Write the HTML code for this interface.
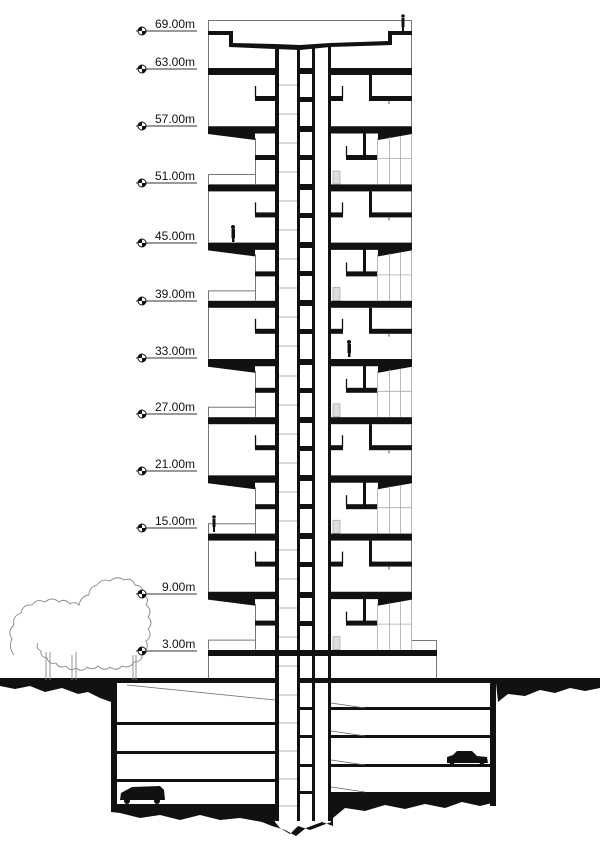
<!DOCTYPE html>
<html><head><meta charset="utf-8"><style>
html,body{margin:0;padding:0;background:#fff}
svg{display:block}
text{font-family:"Liberation Sans",sans-serif;font-size:12px;fill:#111}
</style></head><body>
<svg width="600" height="854" viewBox="0 0 600 854" xmlns="http://www.w3.org/2000/svg">
<defs>
<g id="mod">
  <!-- straight slab -->
  <rect x="208" y="0" width="67" height="7" fill="#111"/>
  <rect x="331" y="0" width="81" height="7" fill="#111"/>
  <!-- upper floor -->
  <line x1="208.5" y1="7" x2="208.5" y2="58" stroke="#777" stroke-width="1"/>
  <line x1="411.5" y1="7" x2="411.5" y2="58" stroke="#777" stroke-width="1"/>
  <line x1="255.5" y1="18" x2="255.5" y2="30" stroke="#111" stroke-width="1.3"/>
  <rect x="255" y="28" width="20" height="5" fill="#111"/>
  <line x1="342.5" y1="18" x2="342.5" y2="30" stroke="#111" stroke-width="1.3"/>
  <rect x="331" y="28" width="12" height="5" fill="#111"/>
  <rect x="369" y="7" width="3" height="22" fill="#111"/>
  <rect x="369" y="28" width="43" height="5" fill="#111"/>
  <line x1="389" y1="33" x2="389" y2="36" stroke="#555"/>
  <!-- tapered slab -->
  <polygon points="208,58.2 275,58.2 275,65.5 255,65.5 255,72 208,66" fill="#111"/>
  <polygon points="331,58.2 412,58.2 412,66 378,72 378,65.5 331,65.5" fill="#111"/>
  <!-- lower floor -->
  <line x1="255.5" y1="70" x2="255.5" y2="116" stroke="#777" stroke-width="1"/>
  <line x1="208" y1="106.5" x2="255" y2="106.5" stroke="#777" stroke-width="1"/>
  <line x1="208.5" y1="106" x2="208.5" y2="116" stroke="#777" stroke-width="1"/>
  <rect x="255" y="87" width="20" height="5" fill="#111"/>
  <rect x="363" y="65" width="3" height="23" fill="#111"/>
  <rect x="346" y="87" width="31" height="5" fill="#111"/>
  <line x1="346.5" y1="78" x2="346.5" y2="88" stroke="#111" stroke-width="1.3"/>
  <g stroke="#aaa" stroke-width="0.8" fill="none">
    <line x1="377.5" y1="70" x2="377.5" y2="116"/>
    <line x1="389.5" y1="69" x2="389.5" y2="116"/>
    <line x1="400.5" y1="68" x2="400.5" y2="116"/>
    <line x1="411.5" y1="66" x2="411.5" y2="116"/>
    <line x1="377" y1="90.5" x2="412" y2="90.5"/>
  </g>
  <rect x="333" y="103" width="7" height="13" fill="#ddd" stroke="#999" stroke-width="0.6"/>
</g>
</defs>

<!-- roof -->
<line x1="208" y1="20.5" x2="412" y2="20.5" stroke="#777"/>
<line x1="208.5" y1="20" x2="208.5" y2="68" stroke="#777"/>
<line x1="411.5" y1="20" x2="411.5" y2="68" stroke="#777"/>
<polygon points="208,31 233,31 233,43 275,44 300,45 330,43 388,41 388,31 412,31 412,35 392,35 392,45 330,47 300,50 275,49 229,47 229,35 208,35" fill="#111"/>
<g fill="#111"><circle cx="403" cy="16" r="1.8"/><rect x="401.5" y="18" width="3" height="9"/><rect x="402" y="26" width="2" height="5"/></g>

<use href="#mod" y="68"/>
<use href="#mod" y="184.4"/>
<use href="#mod" y="300.8"/>
<use href="#mod" y="417.2"/>
<use href="#mod" y="533.6"/>

<!-- podium -->
<line x1="412" y1="640.5" x2="437" y2="640.5" stroke="#777"/>
<line x1="436.5" y1="640" x2="436.5" y2="680" stroke="#777"/>
<line x1="208.5" y1="650" x2="208.5" y2="680" stroke="#777"/>
<rect x="208" y="650" width="229" height="6" fill="#111"/>

<!-- core -->
<g fill="#111">
<rect x="275" y="45" width="4" height="776"/>
<rect x="297" y="45" width="3" height="776"/>
<rect x="312" y="45" width="3" height="776"/>
<rect x="328" y="45" width="3" height="776"/>
</g>
<g fill="#111">
<rect x="300" y="68" width="12" height="6"/><rect x="300" y="97" width="12" height="5"/>
<rect x="300" y="126" width="12" height="6"/><rect x="300" y="155" width="12" height="5"/>
<rect x="300" y="184" width="12" height="6"/><rect x="300" y="213" width="12" height="5"/>
<rect x="300" y="242" width="12" height="6"/><rect x="300" y="271" width="12" height="5"/>
<rect x="300" y="300" width="12" height="6"/><rect x="300" y="329" width="12" height="5"/>
<rect x="300" y="359" width="12" height="6"/><rect x="300" y="388" width="12" height="5"/>
<rect x="300" y="417" width="12" height="6"/><rect x="300" y="446" width="12" height="5"/>
<rect x="300" y="475" width="12" height="6"/><rect x="300" y="504" width="12" height="5"/>
<rect x="300" y="533" width="12" height="6"/><rect x="300" y="562" width="12" height="5"/>
<rect x="300" y="592" width="12" height="6"/><rect x="300" y="621" width="12" height="5"/>
<rect x="300" y="650" width="12" height="6"/><rect x="300" y="679" width="12" height="4"/>
<rect x="300" y="707" width="12" height="3"/><rect x="300" y="735" width="12" height="3"/>
<rect x="300" y="764" width="12" height="3"/><rect x="300" y="791" width="12" height="3"/>
</g>
<g stroke="#ccc" stroke-width="1.5">
<line x1="279" y1="85" x2="297" y2="85"/><line x1="279" y1="114" x2="297" y2="114"/>
<line x1="279" y1="143" x2="297" y2="143"/><line x1="279" y1="172" x2="297" y2="172"/>
<line x1="279" y1="201" x2="297" y2="201"/><line x1="279" y1="230" x2="297" y2="230"/>
<line x1="279" y1="259" x2="297" y2="259"/><line x1="279" y1="288" x2="297" y2="288"/>
<line x1="279" y1="317" x2="297" y2="317"/><line x1="279" y1="346" x2="297" y2="346"/>
<line x1="279" y1="376" x2="297" y2="376"/><line x1="279" y1="405" x2="297" y2="405"/>
<line x1="279" y1="434" x2="297" y2="434"/><line x1="279" y1="463" x2="297" y2="463"/>
<line x1="279" y1="492" x2="297" y2="492"/><line x1="279" y1="521" x2="297" y2="521"/>
<line x1="279" y1="550" x2="297" y2="550"/><line x1="279" y1="579" x2="297" y2="579"/>
<line x1="279" y1="608" x2="297" y2="608"/><line x1="279" y1="637" x2="297" y2="637"/>
<line x1="279" y1="666" x2="297" y2="666"/><line x1="279" y1="695" x2="297" y2="695"/>
<line x1="279" y1="723" x2="297" y2="723"/><line x1="279" y1="751" x2="297" y2="751"/>
<line x1="279" y1="779" x2="297" y2="779"/><line x1="279" y1="806" x2="297" y2="806"/>
</g>

<!-- ground & basement -->
<rect x="0" y="678" width="279" height="5" fill="#111"/>
<rect x="297" y="678" width="303" height="5" fill="#111"/>
<polygon points="0,683 111,683 111,702 100,698 88,692 78,694 62,688 45,692 30,686 15,689 0,686" fill="#111"/>
<polygon points="496,683 600,683 600,688 585,691 570,688 555,693 540,690 525,696 508,694 498,702" fill="#111"/>
<rect x="111" y="683" width="6" height="127" fill="#111"/>
<rect x="490" y="683" width="6" height="123" fill="#111"/>
<polygon points="111,804 275,804 275,822 280,828 290,834 298,826 310,830 331,822 331,792 496,792 496,802 480,806 462,802 445,808 425,804 405,809 385,805 365,811 345,808 333,818 333,826 322,822 306,828 296,836 285,830 272,826 262,822 240,818 220,820 200,815 180,820 160,815 140,818 120,813 111,812" fill="#111"/>
<g fill="#111">
<rect x="117" y="722" width="158" height="3"/>
<rect x="117" y="751" width="158" height="3"/>
<rect x="117" y="779" width="158" height="3"/>
<rect x="331" y="707" width="159" height="3"/>
<rect x="331" y="735" width="159" height="3"/>
<rect x="331" y="764" width="159" height="3"/>
</g>
<g stroke="#666" stroke-width="0.8">
<line x1="127" y1="685" x2="275" y2="700"/>
<line x1="331" y1="703" x2="365" y2="708"/>
<line x1="331" y1="731" x2="365" y2="736"/>
<line x1="331" y1="760" x2="365" y2="765"/>
<line x1="331" y1="787" x2="365" y2="792"/>
</g>
<!-- cars -->
<path d="M120,800 L121,793 L132,787 L160,786 L164,790 L165,800 Z" fill="#111"/>
<circle cx="127" cy="801" r="3" fill="#111"/><circle cx="157" cy="801" r="3" fill="#111"/>
<path d="M447,763 L447,757 L453,755 L457,751 L472,751 L477,756 L487,757 L488,763 Z" fill="#111"/>
<circle cx="452" cy="764" r="2.3" fill="#111"/><circle cx="482" cy="764" r="2.3" fill="#111"/>

<!-- people -->
<g fill="#111">
<circle cx="233" cy="227" r="2"/><rect x="231.5" y="229" width="3.5" height="9"/><rect x="232" y="237" width="2.5" height="5"/>
<circle cx="349" cy="342" r="2"/><rect x="347.5" y="344" width="3.5" height="9"/><rect x="348" y="352" width="2.5" height="5"/>
<circle cx="214" cy="517" r="1.8"/><rect x="212.5" y="519" width="3" height="8"/><rect x="213" y="526" width="2" height="6"/>
</g>

<!-- tree -->
<g fill="none" stroke="#888" stroke-width="0.9">
<path d="M14,655 q-6,-8 -2,-16 q-5,-8 2,-14 q-2,-9 7,-12 q2,-9 11,-8 q5,-7 13,-3 q7,-6 14,0 q6,-4 11,2 q5,-3 9,1 q2,-9 10,-10 q0,-8 8,-10 q5,-7 13,-4 q7,-6 14,-1 q8,-3 11,5 q9,1 8,9 q7,4 3,11 q7,5 2,12 q6,6 0,12 q5,7 -2,12 q4,8 -4,12 q1,9 -8,9 q-4,7 -12,4 q-6,6 -12,1 q-6,5 -12,-1 q-5,5 -11,1 q-5,6 -11,1 q-6,4 -10,-2 q-7,3 -10,-3 q-7,2 -9,-5 q-7,-1 -6,-7 q-6,-3 -3,-8"/>
<line x1="46" y1="652" x2="46" y2="680"/><line x1="50" y1="652" x2="50" y2="680"/>
<line x1="72" y1="655" x2="72" y2="680"/><line x1="76" y1="652" x2="76" y2="680"/>
<line x1="133" y1="655" x2="133" y2="680"/><line x1="136" y1="655" x2="136" y2="680"/>
</g>

<!-- level markers -->
<defs>
<g id="mk">
<line x1="136" y1="0" x2="197" y2="0" stroke="#333" stroke-width="0.9"/>
<circle cx="142" cy="0" r="4" fill="#fff" stroke="#111" stroke-width="1"/>
<path d="M142,0 L146,0 A4,4 0 0 1 142,4 Z M142,0 L138,0 A4,4 0 0 1 142,-4 Z" fill="#111"/>
</g>
</defs>
<use href="#mk" y="31"/><text x="155" y="28">69.00m</text>
<use href="#mk" y="69"/><text x="155" y="66">63.00m</text>
<use href="#mk" y="126"/><text x="155" y="123">57.00m</text>
<use href="#mk" y="183"/><text x="155" y="180">51.00m</text>
<use href="#mk" y="243"/><text x="155" y="240">45.00m</text>
<use href="#mk" y="301"/><text x="155" y="298">39.00m</text>
<use href="#mk" y="358"/><text x="155" y="355">33.00m</text>
<use href="#mk" y="414"/><text x="155" y="411">27.00m</text>
<use href="#mk" y="471"/><text x="155" y="468">21.00m</text>
<use href="#mk" y="528"/><text x="155" y="525">15.00m</text>
<use href="#mk" y="594"/><text x="162" y="591">9.00m</text>
<use href="#mk" y="651"/><text x="162" y="648">3.00m</text>
</svg>
</body></html>
